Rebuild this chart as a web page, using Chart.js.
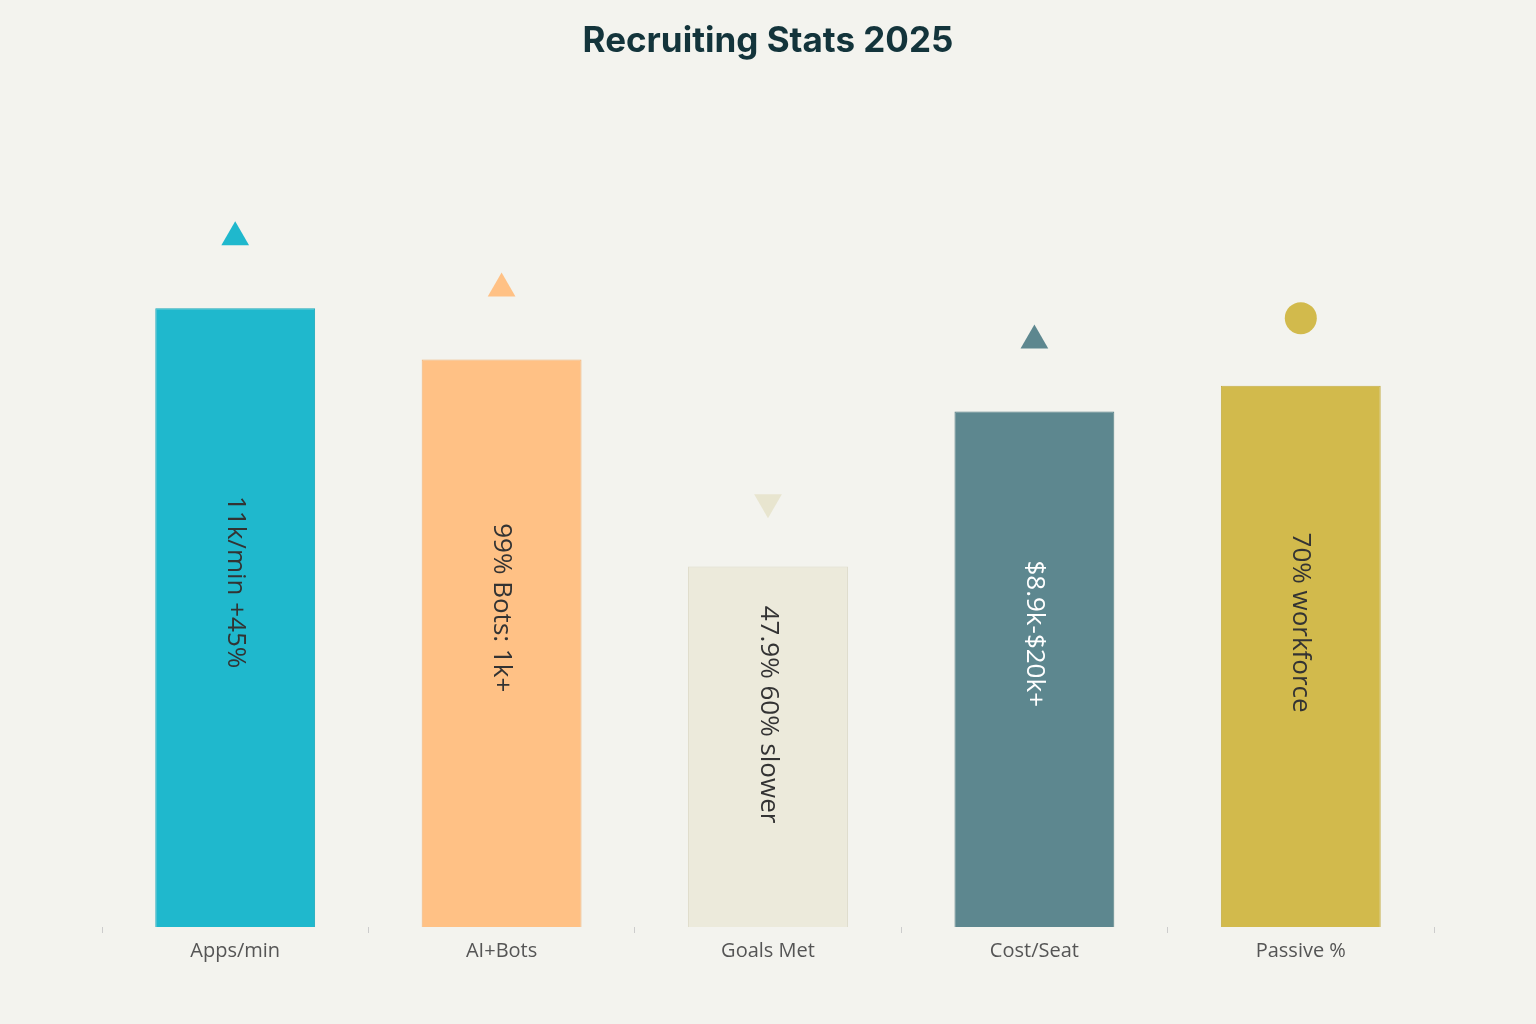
<!DOCTYPE html>
<html>
<head>
<meta charset="utf-8">
<script src="https://cdn.jsdelivr.net/npm/chart.js@4"></script>
<style>
  html, body { margin: 0; padding: 0; background: #f3f3ee; }
  #wrap { width: 1536px; height: 1024px; }
</style>
</head>
<body>
<div id="wrap"><canvas id="myChart"></canvas></div>
<script>
// ----------- DATA ------------
const categories = ['Apps/min', 'AI+Bots', 'Goals Met', 'Cost/Seat', 'Passive %'];
const bar_values = [75, 68.8, 43.7, 62.5, 65.6];
const marker_values = [83.6, 77.4, 51.5, 71.1, 73.8];
const bar_texts = ['11k/min +45%', '99% Bots: 1k+', '47.9% 60% slower', '$8.9k-$20k+', '70% workforce'];
const bar_colors = ['#1fb8cd', '#ffc185', '#eceadb', '#5d878f', '#d2ba4c'];
const bar_borders = ['#1aa8bb', '#f0b47a', '#dcd9c6', '#557d85', '#c4ad45'];
const marker_colors = ['#1fb8cd', '#ffc185', '#e8e5cf', '#5d878f', '#d2ba4c'];
const marker_styles = ['triangle', 'triangle', 'triangle', 'triangle', 'circle'];
const marker_rot = [0, 0, 180, 0, 0];
const text_colors = ['#333', '#333', '#333', '#fff', '#333'];

// ----------- PLUGIN : rotated text inside bars ------------
const barText = {
  id: 'barText',
  afterDatasetsDraw(chart) {
    const ctx = chart.ctx;
    const meta = chart.getDatasetMeta(0);
    const y0 = chart.scales.y.getPixelForValue(0);
    meta.data.forEach((bar, i) => {
      ctx.save();
      ctx.translate(bar.x, (bar.y + y0) / 2);
      ctx.rotate(Math.PI / 2);
      ctx.font = '26px "Open Sans", sans-serif';
      ctx.fillStyle = text_colors[i];
      ctx.textAlign = 'center';
      ctx.textBaseline = 'middle';
      ctx.fillText(bar_texts[i], 0, 0);
      ctx.restore();
    });
  }
};

// ----------- CHART ------------
new Chart(document.getElementById('myChart'), {
  data: {
    labels: categories,
    datasets: [
      {
        type: 'line',
        data: marker_values,
        showLine: false,
        pointStyle: marker_styles,
        pointRotation: marker_rot,
        pointRadius: [16, 16, 16, 16, 16],
        pointBackgroundColor: marker_colors,
        pointBorderWidth: 0
      },
      {
        type: 'bar',
        data: bar_values,
        backgroundColor: bar_colors,
        borderColor: bar_borders,
        borderWidth: 1,
        barPercentage: 0.6,
        categoryPercentage: 1
      }
    ]
  },
  options: {
    responsive: true,
    maintainAspectRatio: false,
    animation: false,
    layout: { padding: { left: 102, right: 102, top: 20, bottom: 55 } },
    plugins: {
      legend: { display: false },
      tooltip: { enabled: false },
      title: {
        display: true,
        text: 'Recruiting Stats 2025',
        color: '#13343b',
        font: { size: 35, weight: 'bold', family: 'Inter, sans-serif' },
        padding: { top: 0, bottom: 40 }
      }
    },
    scales: {
      x: {
        grid: { display: true, drawOnChartArea: false, tickLength: 6, color: '#ccc' },
        border: { display: false },
        ticks: { color: '#555', font: { size: 20, family: '"Open Sans", sans-serif' }, padding: 6 }
      },
      y: { display: false, min: 0, max: 100 }
    }
  },
  plugins: [barText]
});
</script>
</body>
</html>
